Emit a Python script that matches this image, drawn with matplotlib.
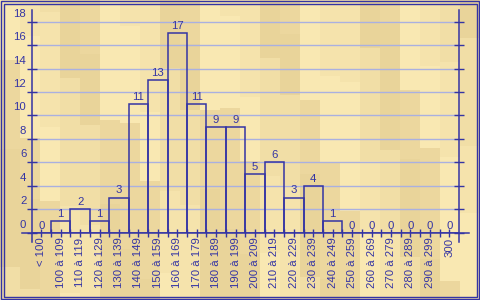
import matplotlib
matplotlib.use("Agg")
import matplotlib.pyplot as plt
import numpy as np
from matplotlib.colors import to_rgb
from matplotlib.patches import Rectangle
from matplotlib.transforms import ScaledTranslation

# data
categories = ["< 100", "100 à 109", "110 à 119", "120 à 129", "130 à 139",
              "140 à 149", "150 à 159", "160 à 169", "170 à 179", "180 à 189",
              "190 à 199", "200 à 209", "210 à 219", "220 à 229", "230 à 239",
              "240 à 249", "250 à 259", "260 à 269", "270 à 279", "280 à 289",
              "290 à 299", "300"]
counts = [0, 1, 2, 1, 3, 11, 13, 17, 11, 9, 9, 5, 6, 3, 4, 1, 0, 0, 0, 0, 0, 0]
y_ticks = [0, 2, 4, 6, 8, 10, 12, 14, 16, 18]

blue = "#3434a4"
grid_col = "#aab0e0"
font = "Liberation Sans"
fs = 8.2

W, H = 480, 300
fig = plt.figure(figsize=(W / 100, H / 100), dpi=100)

# parquet-like background (vertical planks)
tones = [to_rgb(c) for c in ["#f9e8b2", "#f1dea6", "#ecd79e", "#f5e3ac", "#e9d49a"]]
tex = np.zeros((H, W, 3))
plank_w = 20
for col in range(W // plank_w + 1):
    x0 = col * plank_w
    start = -((col * 37) % 90)
    seg = 0
    while start < H:
        length = 60 + (col * 13 + seg * 29) % 70
        y0, y1 = max(start, 0), min(start + length, H)
        tex[y0:y1, x0:x0 + plank_w] = tones[(col * 3 + seg * 2) % len(tones)]
        start += length
        seg += 1
bg = fig.add_axes([0, 0, 1, 1])
bg.imshow(tex, aspect="auto", extent=(0, W, H, 0), interpolation="nearest")
bg.set_xlim(0, W)
bg.set_ylim(H, 0)
bg.axis("off")
bg.add_patch(Rectangle((0.8, 0.8), W - 1.6, H - 1.6, fill=False, ec=blue, lw=1))
bg.add_patch(Rectangle((3.5, 3.5), W - 7, H - 7, fill=False, ec=blue, lw=1))

# main chart
left, right, top, bottom = 31.5, 459, 10, 232.7
ax = fig.add_axes([left / W, 1 - bottom / H, (right - left) / W, (bottom - top) / H])
ax.patch.set_alpha(0)
x = np.arange(len(categories))
ax.set_xlim(-0.5, len(categories) - 0.5)
ax.set_ylim(0, 19)

ax.hlines(y_ticks[1:], -0.5, len(categories) - 0.5, color=grid_col, lw=1, zorder=0)
ax.bar(x, counts, width=1, fill=False, edgecolor=blue, lw=1.1, zorder=2)

for i, v in zip(x, counts):
    ax.annotate(str(v), (i, v), xytext=(0, 3.0), textcoords="offset points",
                ha="center", va="baseline", color=blue, fontsize=fs, family=font)

for s in ["left", "right", "bottom"]:
    ax.spines[s].set_color(blue)
    ax.spines[s].set_linewidth(1.1)
ax.spines["top"].set_visible(False)
ax.spines["left"].set_bounds(-0.8, 19)
ax.spines["right"].set_bounds(-0.8, 19)
ax.spines["bottom"].set_bounds(-1.0, len(categories) + 0.02)

ax.set_xticks(x)
ax.set_xticks(x[:-1] + 0.5, minor=True)
ax.set_xticklabels(categories, rotation=90, fontsize=fs, family=font, color=blue)
ax.set_yticks(y_ticks)
ax.set_yticklabels([str(t) for t in y_ticks], fontsize=fs, family=font, color=blue)
ax.tick_params(axis="x", which="both", direction="inout", length=6, width=1,
               color=blue, pad=0.5)
ax.tick_params(axis="y", direction="inout", length=6.5, width=1, color=blue,
               right=True, labelright=False, pad=0.5)
for lab in ax.get_yticklabels():
    lab.set_transform(lab.get_transform() + ScaledTranslation(0, 9 / 100, fig.dpi_scale_trans))

fig.savefig("out.png", dpi=100)
